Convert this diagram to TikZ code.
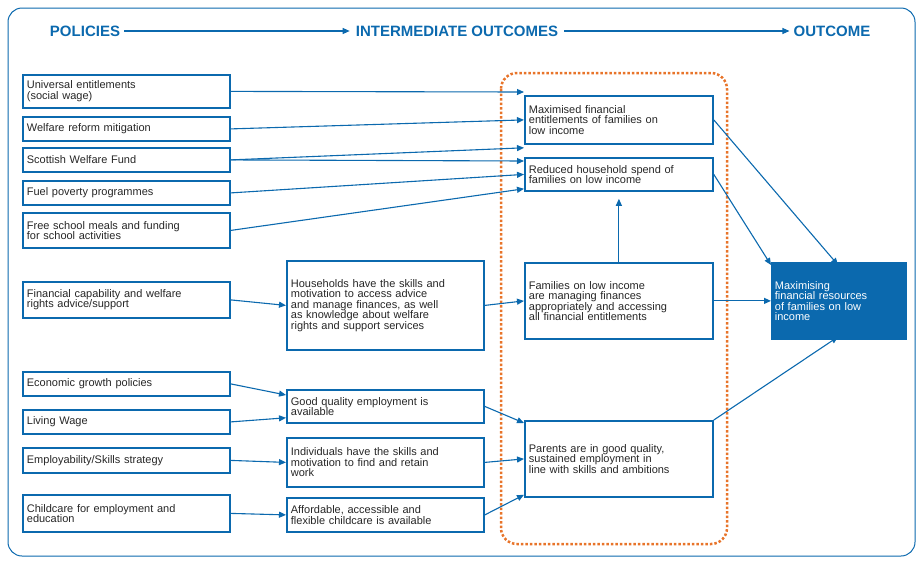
\documentclass[tikz,border=0pt]{standalone}
\usepackage{fontspec}
\setmainfont{Liberation Sans}
\usetikzlibrary{arrows.meta}
\definecolor{sgblue}{HTML}{0B69AE}
\definecolor{sgorange}{HTML}{E8742A}
\tikzset{
  box/.style={draw=sgblue, line width=1.8pt, inner sep=3pt, align=left, anchor=north west,
    text=black!85, font=\fontsize{11}{10.5}\selectfont},
  link/.style={draw=sgblue, line width=1.1pt, -{Triangle[length=7pt,width=6pt]}},
  head/.style={text=sgblue, font=\fontsize{15}{15}\selectfont\bfseries, inner sep=0pt}
}
\begin{document}
\begin{tikzpicture}[x=1pt, y=-1pt]
\useasboundingbox (0,0) rectangle (922,563);
\draw[sgblue, line width=1pt, rounded corners=14pt] (8,8) rectangle (915,556);
\draw[sgorange, line width=2.5pt, dotted, rounded corners=16pt] (501,73) rectangle (727,544);
% headings
\node[head] (hpol) at (85,31) {POLICIES};
\node[head] (hint) at (457,31) {INTERMEDIATE OUTCOMES};
\node[head] (hout) at (832,31) {OUTCOME};
\draw[link] (hpol.east) ++(4pt,0) -- ([xshift=-6pt]hint.west);
\draw[link] (hint.east) ++(6pt,0) -- ([xshift=-4pt]hout.west);
% policies
\node[box, minimum width=207pt, minimum height=33pt, text width=199pt] (p1) at (22,74) {Universal entitlements\\(social wage)};
\node[box, minimum width=207pt, minimum height=24pt, text width=199pt] (p2) at (22,116) {Welfare reform mitigation};
\node[box, minimum width=207pt, minimum height=24pt, text width=199pt] (p3) at (22,147) {Scottish Welfare Fund};
\node[box, minimum width=207pt, minimum height=24pt, text width=199pt] (p4) at (22,180) {Fuel poverty programmes};
\node[box, minimum width=207pt, minimum height=35pt, text width=199pt] (p5) at (22,212) {Free school meals and funding\\for school activities};
\node[box, minimum width=207pt, minimum height=36pt, text width=199pt] (p6) at (22,281) {Financial capability and welfare\\rights advice/support};
\node[box, minimum width=207pt, minimum height=24pt, text width=199pt] (p7) at (22,371) {Economic growth policies};
\node[box, minimum width=207pt, minimum height=24pt, text width=199pt] (p8) at (22,409) {Living Wage};
\node[box, minimum width=207pt, minimum height=25pt, text width=199pt] (p9) at (22,447) {Employability/Skills strategy};
\node[box, minimum width=207pt, minimum height=37pt, text width=199pt] (p10) at (22,494) {Childcare for employment and\\education};
% middle column
\node[box, minimum width=197pt, minimum height=89pt, text width=189pt] (m1) at (286,260) {Households have the skills and\\motivation to access advice\\and manage finances, as well\\as knowledge about welfare\\rights and support services\\[3pt]};
\node[box, minimum width=197pt, minimum height=33pt, text width=189pt] (m2) at (286,389) {Good quality employment is\\available};
\node[box, minimum width=197pt, minimum height=49pt, text width=189pt] (m3) at (286,437) {Individuals have the skills and\\motivation to find and retain\\work};
\node[box, minimum width=197pt, minimum height=34pt, text width=189pt] (m4) at (286,497) {Affordable, accessible and\\flexible childcare is available};
% intermediate outcomes
\node[box, minimum width=188pt, minimum height=48pt, text width=180pt] (i1) at (524,95) {Maximised financial\\entitlements of families on\\low income};
\node[box, minimum width=188pt, minimum height=33pt, text width=180pt] (i2) at (524,157) {Reduced household spend of\\families on low income};
\node[box, minimum width=188pt, minimum height=76pt, text width=180pt] (i3) at (524,262) {Families on low income\\are managing finances\\appropriately and accessing\\all financial entitlements};
\node[box, minimum width=188pt, minimum height=76pt, text width=180pt] (i4) at (524,420) {Parents are in good quality,\\sustained employment in\\line with skills and ambitions};
% outcome
\node[box, fill=sgblue, text=white, minimum width=134pt, minimum height=76pt, text width=128pt] (o1) at (771,262) {Maximising\\financial resources\\of families on low\\income\\[6pt]};
% connectors
\draw[link] (p1.east) -- ([yshift=3pt]i1.north west);
\draw[link] (p2.east) -- (i1.west);
\draw[link] (p3.east) -- ([yshift=-3pt]i1.south west);
\draw[link] (p3.east) -- ([yshift=-4pt]i2.north west);
\draw[link] (p4.east) -- (i2.west);
\draw[link] (p5.east) -- ([yshift=3pt]i2.south west);
\draw[link] (p6.east) -- (m1.west);
\draw[link] (m1.east) -- (i3.west);
\draw[link] (i3.north) -- ([yshift=-7pt]i2.south);
\draw[link] (p7.east) -- ([yshift=-6pt]m2.north west);
\draw[link] (p8.east) -- ([yshift=6pt]m2.south west);
\draw[link] (m2.east) -- ([yshift=-3pt]i4.north west);
\draw[link] (p9.east) -- (m3.west);
\draw[link] (m3.east) -- (i4.west);
\draw[link] (p10.east) -- (m4.west);
\draw[link] (m4.east) -- ([yshift=3pt]i4.south west);
\draw[link] (i1.east) -- ([xshift=67pt,yshift=-3pt]o1.north west);
\draw[link] (i2.east) -- ([yshift=-3pt]o1.north west);
\draw[link] (i3.east) -- (o1.west);
\draw[link] (i4.north east) -- ([xshift=67pt,yshift=3pt]o1.south west);
\end{tikzpicture}
\end{document}
